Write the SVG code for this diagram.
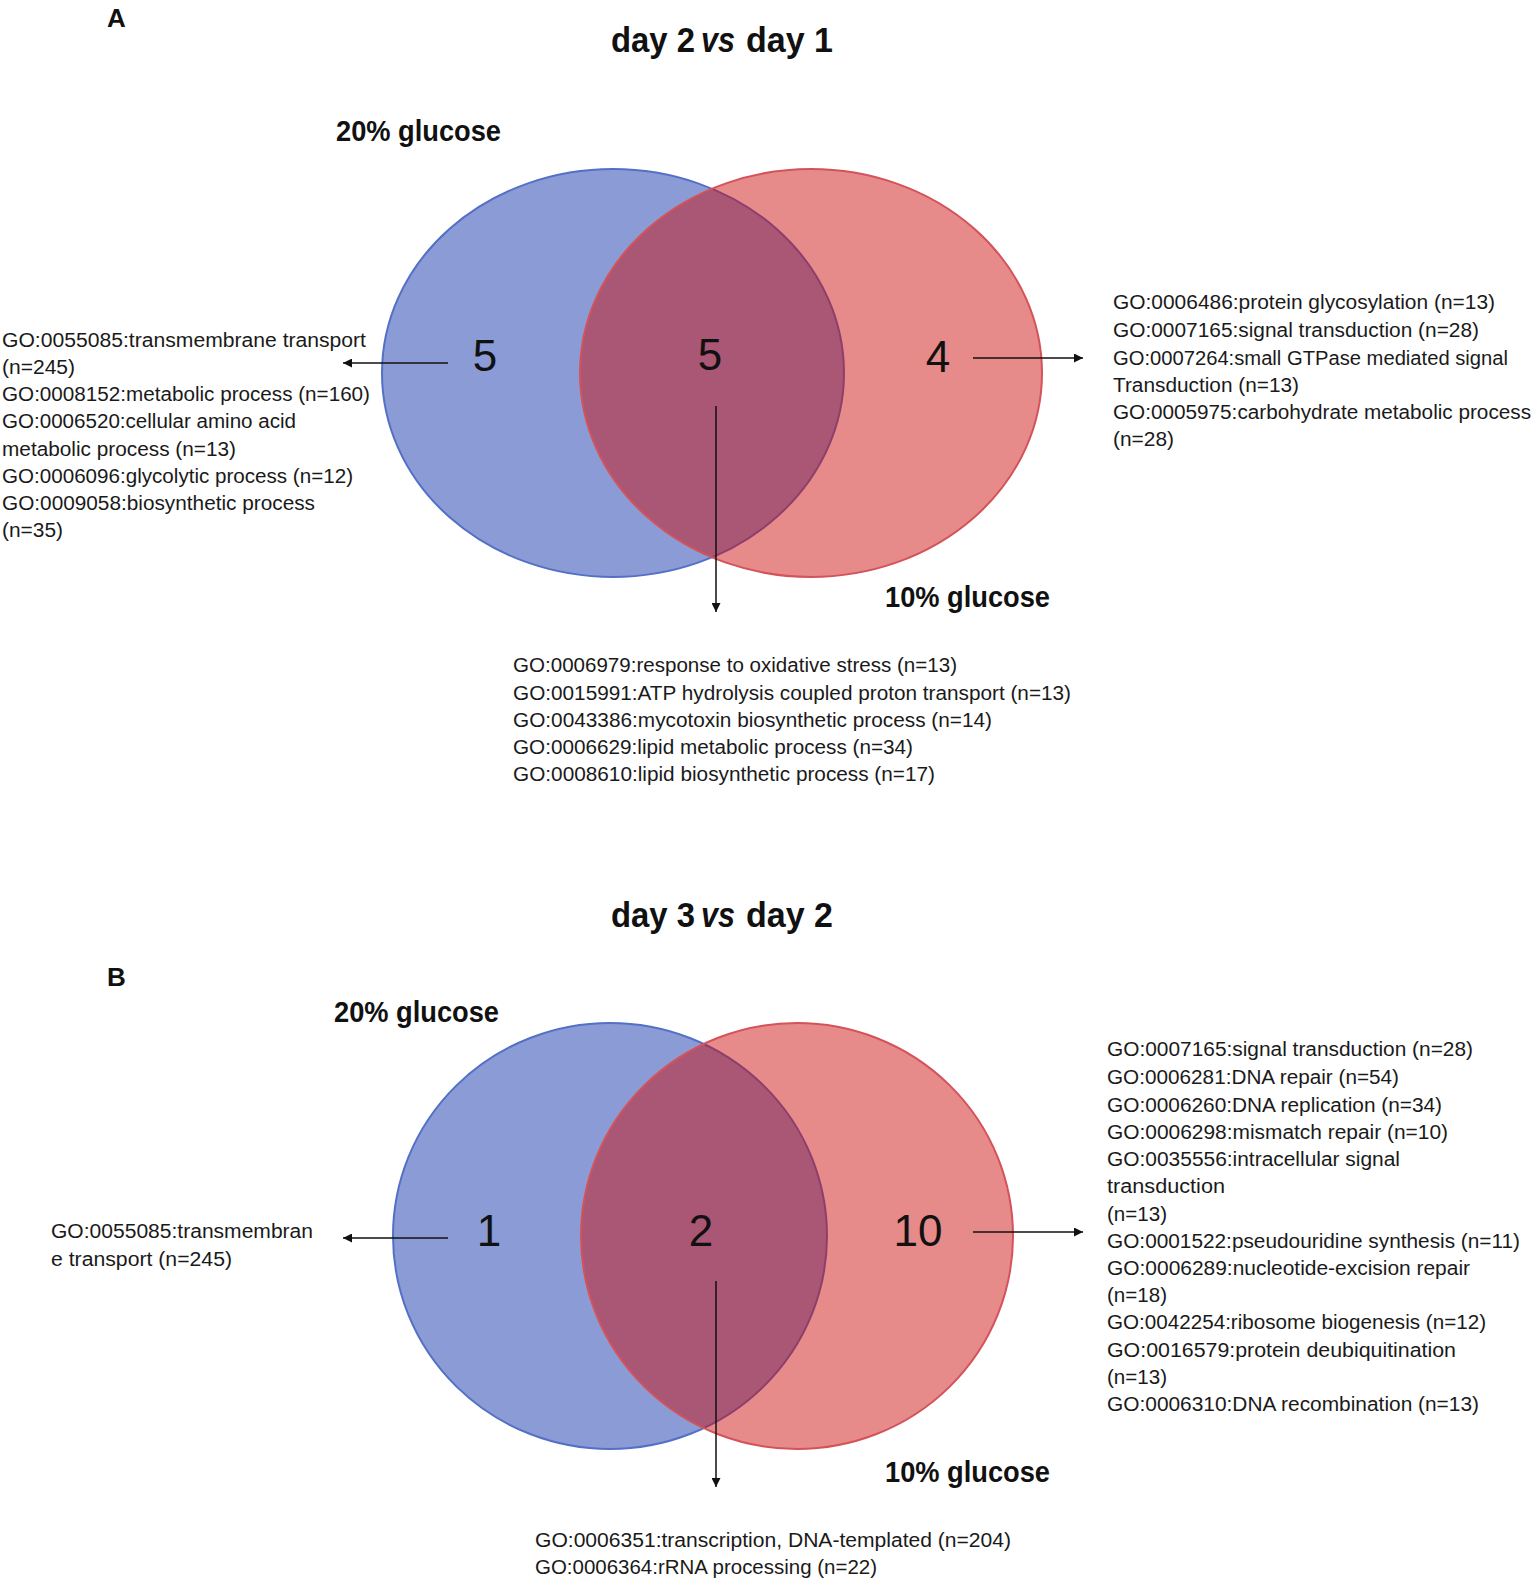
<svg xmlns="http://www.w3.org/2000/svg" width="1536" height="1580" viewBox="0 0 1536 1580">
<style>
.go{font-family:"Liberation Sans",Arial,sans-serif;font-size:20px;fill:#1a1a1a}
.num{font-family:"Liberation Sans",Arial,sans-serif;font-size:44px;fill:#111;text-anchor:middle}
.lbl{font-family:"Liberation Sans",Arial,sans-serif;font-size:29px;font-weight:bold;fill:#111}
.ttl{font-family:"Liberation Sans",Arial,sans-serif;font-size:35px;font-weight:bold;fill:#111}
.pan{font-family:"Liberation Sans",Arial,sans-serif;font-size:26px;font-weight:bold;fill:#111}
.blue{fill:#8b9bd6;stroke:#5470c6;stroke-width:2}
.red{fill:rgb(205,11,11);fill-opacity:0.48;stroke:#d4535a;stroke-width:2}
.arr{stroke:#111;stroke-width:1.5;fill:none;marker-end:url(#ah)}
</style>
<defs>
<marker id="ah" viewBox="0 0 10 10" refX="10" refY="5" markerWidth="6" markerHeight="6" orient="auto" markerUnits="strokeWidth">
<path d="M0,0 L10,5 L0,10 z" fill="#111"/>
</marker>
</defs>
<rect width="1536" height="1580" fill="#fff"/>

<text class="pan" x="107" y="27">A</text>
<g id="titleA">
<text class="ttl" x="611" y="52" textLength="84" lengthAdjust="spacingAndGlyphs">day 2</text>
<text class="ttl" x="701" y="52" textLength="34" lengthAdjust="spacingAndGlyphs" font-style="italic">vs</text>
<text class="ttl" x="746" y="52" textLength="87" lengthAdjust="spacingAndGlyphs">day 1</text>
</g>

<g id="vennA">
<g id="A-20"><ellipse class="blue" cx="613" cy="373" rx="231" ry="204"/></g>
<g id="A-10"><ellipse class="red" cx="811" cy="373" rx="231" ry="204"/></g>
<text class="lbl" x="336" y="141" textLength="165" lengthAdjust="spacingAndGlyphs">20% glucose</text>
<text class="lbl" x="885" y="607" textLength="165" lengthAdjust="spacingAndGlyphs">10% glucose</text>
<text class="num" x="485" y="371">5</text>
<text class="num" x="710" y="370">5</text>
<text class="num" x="938" y="372">4</text>
</g>

<g id="A-left-list">
<text class="go" x="2" y="347" textLength="364" lengthAdjust="spacingAndGlyphs">GO:0055085:transmembrane transport</text>
<text class="go" x="2" y="374" textLength="73" lengthAdjust="spacingAndGlyphs">(n=245)</text>
<text class="go" x="2" y="401" textLength="368" lengthAdjust="spacingAndGlyphs">GO:0008152:metabolic process (n=160)</text>
<text class="go" x="2" y="428" textLength="294" lengthAdjust="spacingAndGlyphs">GO:0006520:cellular amino acid</text>
<text class="go" x="2" y="456" textLength="234" lengthAdjust="spacingAndGlyphs">metabolic process (n=13)</text>
<text class="go" x="2" y="483" textLength="351" lengthAdjust="spacingAndGlyphs">GO:0006096:glycolytic process (n=12)</text>
<text class="go" x="2" y="510" textLength="313" lengthAdjust="spacingAndGlyphs">GO:0009058:biosynthetic process</text>
<text class="go" x="2" y="537" textLength="61" lengthAdjust="spacingAndGlyphs">(n=35)</text>
</g>

<g id="A-right-list">
<text class="go" x="1113" y="309" textLength="382" lengthAdjust="spacingAndGlyphs">GO:0006486:protein glycosylation (n=13)</text>
<text class="go" x="1113" y="337" textLength="366" lengthAdjust="spacingAndGlyphs">GO:0007165:signal transduction (n=28)</text>
<text class="go" x="1113" y="365" textLength="395" lengthAdjust="spacingAndGlyphs">GO:0007264:small GTPase mediated signal</text>
<text class="go" x="1113" y="392" textLength="186" lengthAdjust="spacingAndGlyphs">Transduction (n=13)</text>
<text class="go" x="1113" y="419" textLength="418" lengthAdjust="spacingAndGlyphs">GO:0005975:carbohydrate metabolic process</text>
<text class="go" x="1113" y="446" textLength="61" lengthAdjust="spacingAndGlyphs">(n=28)</text>
</g>

<g id="A-bottom-list">
<text class="go" x="513" y="672" textLength="444" lengthAdjust="spacingAndGlyphs">GO:0006979:response to oxidative stress (n=13)</text>
<text class="go" x="513" y="700" textLength="558" lengthAdjust="spacingAndGlyphs">GO:0015991:ATP hydrolysis coupled proton transport (n=13)</text>
<text class="go" x="513" y="727" textLength="479" lengthAdjust="spacingAndGlyphs">GO:0043386:mycotoxin biosynthetic process (n=14)</text>
<text class="go" x="513" y="754" textLength="400" lengthAdjust="spacingAndGlyphs">GO:0006629:lipid metabolic process (n=34)</text>
<text class="go" x="513" y="781" textLength="422" lengthAdjust="spacingAndGlyphs">GO:0008610:lipid biosynthetic process (n=17)</text>
</g>

<g id="titleB">
<text class="ttl" x="611" y="927" textLength="84" lengthAdjust="spacingAndGlyphs">day 3</text>
<text class="ttl" x="701" y="927" textLength="34" lengthAdjust="spacingAndGlyphs" font-style="italic">vs</text>
<text class="ttl" x="746" y="927" textLength="87" lengthAdjust="spacingAndGlyphs">day 2</text>
</g>
<text class="pan" x="107" y="986">B</text>

<g id="vennB">
<g id="B-20"><ellipse class="blue" cx="610" cy="1236" rx="217" ry="213"/></g>
<g id="B-10"><ellipse class="red" cx="797" cy="1236" rx="216" ry="213"/></g>
<text class="lbl" x="334" y="1022" textLength="165" lengthAdjust="spacingAndGlyphs">20% glucose</text>
<text class="lbl" x="885" y="1482" textLength="165" lengthAdjust="spacingAndGlyphs">10% glucose</text>
<text class="num" x="489" y="1246">1</text>
<text class="num" x="701" y="1246">2</text>
<text class="num" x="918" y="1246">10</text>
</g>

<g id="B-left-list">
<text class="go" x="51" y="1238" textLength="262" lengthAdjust="spacingAndGlyphs">GO:0055085:transmembran</text>
<text class="go" x="51" y="1266" textLength="181" lengthAdjust="spacingAndGlyphs">e transport (n=245)</text>
</g>

<g id="B-right-list">
<text class="go" x="1107" y="1056" textLength="366" lengthAdjust="spacingAndGlyphs">GO:0007165:signal transduction (n=28)</text>
<text class="go" x="1107" y="1084" textLength="292" lengthAdjust="spacingAndGlyphs">GO:0006281:DNA repair (n=54)</text>
<text class="go" x="1107" y="1112" textLength="335" lengthAdjust="spacingAndGlyphs">GO:0006260:DNA replication (n=34)</text>
<text class="go" x="1107" y="1139" textLength="341" lengthAdjust="spacingAndGlyphs">GO:0006298:mismatch repair (n=10)</text>
<text class="go" x="1107" y="1166" textLength="293" lengthAdjust="spacingAndGlyphs">GO:0035556:intracellular signal</text>
<text class="go" x="1107" y="1193" textLength="118" lengthAdjust="spacingAndGlyphs">transduction</text>
<text class="go" x="1107" y="1221" textLength="60" lengthAdjust="spacingAndGlyphs">(n=13)</text>
<text class="go" x="1107" y="1248" textLength="413" lengthAdjust="spacingAndGlyphs">GO:0001522:pseudouridine synthesis (n=11)</text>
<text class="go" x="1107" y="1275" textLength="363" lengthAdjust="spacingAndGlyphs">GO:0006289:nucleotide-excision repair</text>
<text class="go" x="1107" y="1302" textLength="60" lengthAdjust="spacingAndGlyphs">(n=18)</text>
<text class="go" x="1107" y="1329" textLength="379" lengthAdjust="spacingAndGlyphs">GO:0042254:ribosome biogenesis (n=12)</text>
<text class="go" x="1107" y="1357" textLength="349" lengthAdjust="spacingAndGlyphs">GO:0016579:protein deubiquitination</text>
<text class="go" x="1107" y="1384" textLength="60" lengthAdjust="spacingAndGlyphs">(n=13)</text>
<text class="go" x="1107" y="1411" textLength="372" lengthAdjust="spacingAndGlyphs">GO:0006310:DNA recombination (n=13)</text>
</g>

<g id="B-bottom-list">
<text class="go" x="535" y="1547" textLength="476" lengthAdjust="spacingAndGlyphs">GO:0006351:transcription, DNA-templated (n=204)</text>
<text class="go" x="535" y="1574" textLength="342" lengthAdjust="spacingAndGlyphs">GO:0006364:rRNA processing (n=22)</text>
</g>

<g id="connectors">
<line class="arr" x1="448" y1="363" x2="343" y2="363"/>
<line class="arr" x1="973" y1="358" x2="1083" y2="358"/>
<line class="arr" x1="716" y1="406" x2="716" y2="612"/>
<line class="arr" x1="448" y1="1238" x2="343" y2="1238"/>
<line class="arr" x1="973" y1="1232" x2="1083" y2="1232"/>
<line class="arr" x1="716" y1="1281" x2="716" y2="1487"/>
</g>
</svg>
